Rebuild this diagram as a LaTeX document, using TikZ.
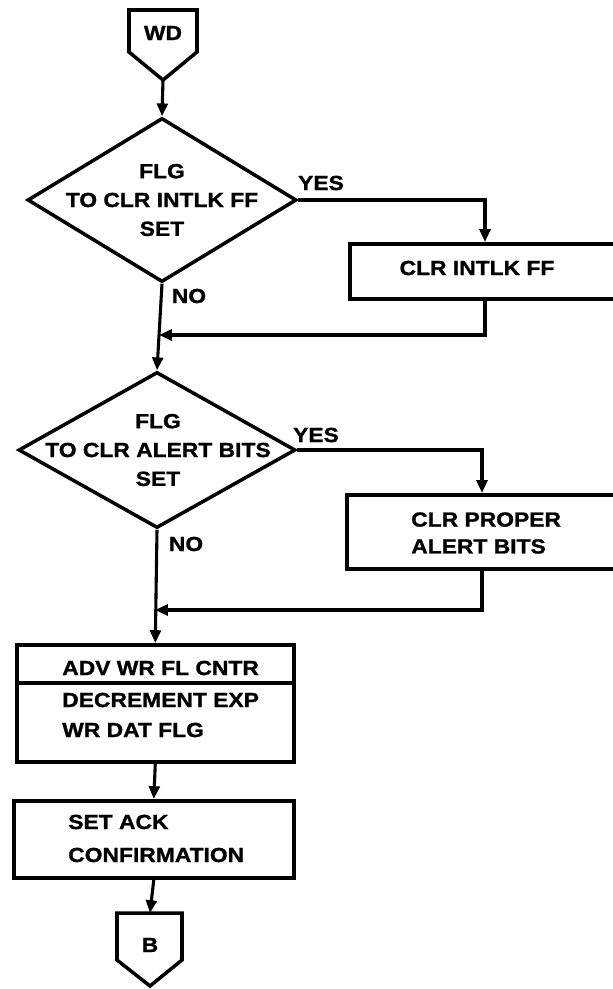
\documentclass[tikz,border=0pt]{standalone}
\usepackage{fontspec}
\newfontfamily\lab{Liberation Sans}[FakeStretch=1.12,FakeBold=1.2]
\usetikzlibrary{shapes.geometric,arrows.meta}
\begin{document}
\begin{tikzpicture}[x=0.025cm,y=-0.025cm,
  txt/.style={font=\lab\bfseries\fontsize{14.5}{20.5}\selectfont, inner sep=0pt},
  shp/.style={draw, line width=2.5pt, line join=miter},
  dia/.style={shp, diamond, inner sep=0pt},
  boxn/.style={shp, rectangle, inner sep=0pt, anchor=north west},
  con/.style={line width=2.2pt},
  arr/.style={con, -{Triangle[length=0.32cm,width=0.27cm]}},
]
\useasboundingbox (0,0) rectangle (613,989);

% entry connector WD
\draw[shp] (129,10) -- (197,10) -- (197,52) -- (163,80) -- (129,52) -- cycle;
\node[txt] (wd) at (163,33) {WD};
\coordinate (wdb) at (163,80);

% decision 1
\node[dia, minimum width=6.725cm, minimum height=4.1cm] (d1) at (162,200) {};
\node[txt, align=center] (t1) at (162,200) {FLG\\TO CLR INTLK FF\\SET};

% box 1 (runs off the right edge)
\node[boxn, minimum width=8cm, minimum height=1.375cm] (b1) at (348,242) {};
\coordinate (a1) at (485,242);
\node[txt] (t3) at (477,268) {CLR INTLK FF};

% decision 2
\node[dia, minimum width=6.925cm, minimum height=3.9cm] (d2) at (157,450) {};
\node[txt, align=center] (t4) at (158,450) {FLG\\TO CLR ALERT BITS\\SET};

% box 2 (runs off the right edge)
\node[boxn, minimum width=8cm, minimum height=1.85cm] (b2) at (345,493) {};
\coordinate (a2) at (482,493);
\node[txt, align=left, anchor=west] (t5) at (411,533) {CLR PROPER\\[-1.4pt]ALERT BITS};

% box 3
\node[boxn, minimum width=6.925cm, minimum height=2.925cm] (b3) at (15,643) {};
\coordinate (dv) at (0,683);
\draw[shp] (b3.west |- dv) -- (b3.east |- dv);
\node[txt, anchor=west] (t6) at (62,668) {ADV WR FL CNTR};
\node[txt, anchor=west] (t7) at (62,700) {DECREMENT EXP};
\node[txt, anchor=west] (t8) at (62,730) {WR DAT FLG};

% box 4
\node[boxn, minimum width=7cm, minimum height=1.925cm] (b4) at (12,799) {};
\node[txt, anchor=west] (t9) at (68,822) {SET ACK};
\node[txt, anchor=west] (t10) at (68,855) {CONFIRMATION};

% exit connector B
\draw[shp] (117,913) -- (182,913) -- (182,960) -- (150,986) -- (117,960) -- cycle;
\node[txt] (bn) at (150,945) {B};
\coordinate (bt) at (150,913);

% labels
\node[txt] (y1) at (321,183) {YES};
\node[txt] (y2) at (316,435) {YES};
\node[txt] (n1) at (189,296) {NO};
\node[txt] (n2) at (186,544) {NO};

% connectors
\coordinate (m1) at (159,335);
\coordinate (m2) at (155,610);
\draw[arr] (wdb) -- (d1.north);
\draw[arr] (d1.east) -| (a1);
\draw[arr] (d1.south) -- (d2.north);
\draw[arr] (a1 |- b1.south) |- (m1);
\draw[arr] (d2.east) -| (a2);
\draw[arr] (a2 |- b2.south) |- (m2);
\draw[arr] (d2.south) -- (b3.north);
\draw[arr] (b3.south) -- (b4.north);
\draw[arr] (b4.south) -- (bt);
\end{tikzpicture}
\end{document}
